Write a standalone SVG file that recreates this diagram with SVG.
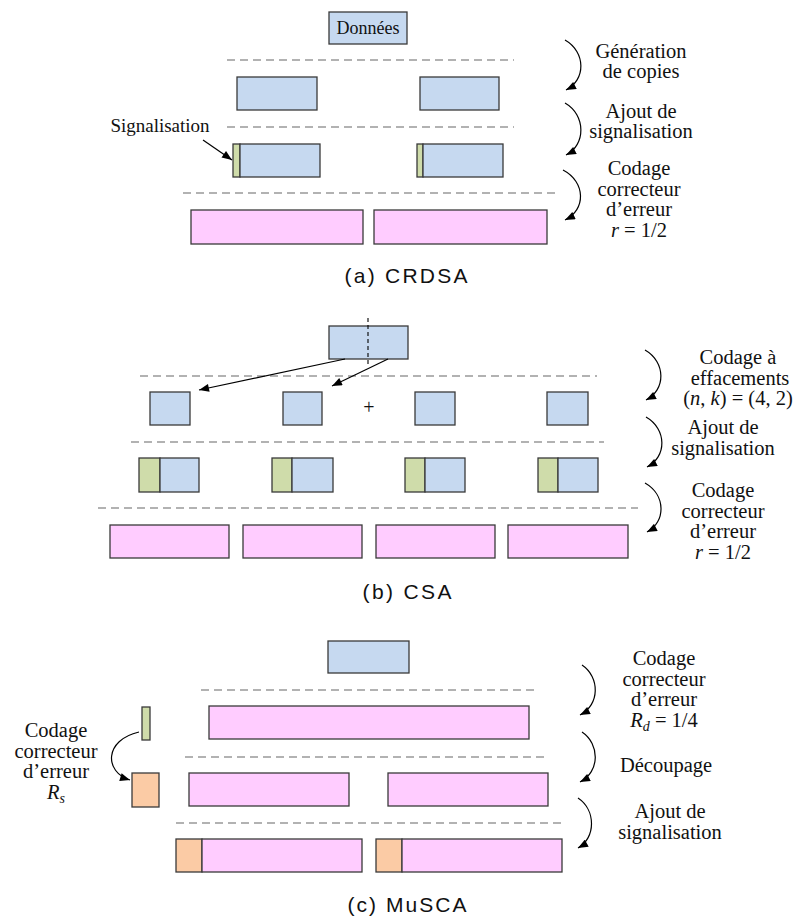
<svg xmlns="http://www.w3.org/2000/svg" width="795" height="918" viewBox="0 0 795 918">
  <style>
    .data { fill: #c6d9f0; stroke: #3a3a3a; stroke-width: 1.3; }
    .sig { fill: #cfdcaa; stroke: #3a3a3a; stroke-width: 1.3; }
    .fec { fill: #ffccff; stroke: #3a3a3a; stroke-width: 1.3; }
    .sfec { fill: #fbcba5; stroke: #3a3a3a; stroke-width: 1.3; }
    .sep { stroke: #999999; stroke-width: 1.4; stroke-dasharray: 8 5; fill: none; }
    .arc { stroke: #000000; stroke-width: 1.2; fill: none; marker-end: url(#tip); }
    .line { stroke: #000000; stroke-width: 1.2; fill: none; marker-end: url(#tip); }
    .serif { font-family: "Liberation Serif", Tinos, "Times New Roman", "Noto Serif", "DejaVu Serif", serif; fill: #111111; text-anchor: middle; }
    .lbl { font-size: 20.5px; }
    .cap { font-family: "Liberation Sans", Arimo, Arial, sans-serif; font-size: 21px; fill: #111111; text-anchor: middle; }
    .it { font-style: italic; }
  </style>
  <defs>
    <marker id="tip" viewBox="0 0 10 8" refX="10" refY="4" markerWidth="11" markerHeight="8" markerUnits="userSpaceOnUse" orient="auto">
      <path d="M0,0 L10,4 L0,8 z" fill="#000000"/>
    </marker>
  </defs>

  <rect width="795" height="918" fill="#ffffff"/>

  <!-- (a) CRDSA -->
  <g id="a-separators">
    <line class="sep" x1="227" y1="60" x2="514" y2="60"/>
    <line class="sep" x1="227" y1="127" x2="514" y2="127"/>
    <line class="sep" x1="183" y1="193" x2="557" y2="193"/>
  </g>
  <g id="a-data">
    <rect class="data" x="329" y="12" width="78" height="32"/>
    <text class="serif" x="368" y="34" font-size="18">Données</text>
  </g>
  <g id="a-copy1"><rect class="data" x="237" y="77" width="80" height="33"/></g>
  <g id="a-copy2"><rect class="data" x="420" y="77" width="79" height="33"/></g>
  <g id="a-sig1">
    <rect class="sig" x="233" y="144" width="7" height="33"/>
    <rect class="data" x="240" y="144" width="80" height="33"/>
  </g>
  <g id="a-sig2">
    <rect class="sig" x="417" y="144" width="6" height="33"/>
    <rect class="data" x="423" y="144" width="80" height="33"/>
  </g>
  <g id="a-coded1"><rect class="fec" x="191" y="210" width="172" height="34"/></g>
  <g id="a-coded2"><rect class="fec" x="374" y="210" width="173" height="34"/></g>
  <g id="a-sig-label">
    <text class="serif" x="160" y="132" font-size="19">Signalisation</text>
  </g>
  <g id="a-steps" class="serif lbl">
    <text x="641" y="58">Génération</text>
    <text x="641" y="78">de copies</text>
    <text x="641" y="118">Ajout de</text>
    <text x="641" y="138">signalisation</text>
    <text x="639" y="175">Codage</text>
    <text x="639" y="195.5">correcteur</text>
    <text x="639" y="216">d’erreur</text>
    <text x="639" y="236.5"><tspan class="it">r</tspan> = 1/2</text>
  </g>
  <text class="cap" x="406" y="283" textLength="123" lengthAdjust="spacing">(a)  CRDSA</text>

  <!-- (b) CSA -->
  <g id="b-separators">
    <line class="sep" x1="140" y1="376" x2="597" y2="376"/>
    <line class="sep" x1="131" y1="442" x2="604" y2="442"/>
    <line class="sep" x1="98" y1="508" x2="638" y2="508"/>
  </g>
  <g id="b-data">
    <rect class="data" x="329" y="326" width="79" height="33"/>
    <line x1="368" y1="318" x2="368" y2="365" stroke="#000" stroke-width="1.1" stroke-dasharray="4 3"/>
  </g>
  <g id="b-part1"><rect class="data" x="150" y="392" width="40" height="33"/></g>
  <g id="b-part2"><rect class="data" x="283" y="392" width="39" height="33"/></g>
  <g id="b-plus"><text class="serif" x="369" y="414" font-size="20">+</text></g>
  <g id="b-part3"><rect class="data" x="415" y="392" width="40" height="33"/></g>
  <g id="b-part4"><rect class="data" x="547" y="392" width="41" height="33"/></g>
  <g id="b-sig1"><rect class="sig" x="139" y="458" width="21" height="34"/><rect class="data" x="160" y="458" width="39" height="34"/></g>
  <g id="b-sig2"><rect class="sig" x="272" y="458" width="20" height="34"/><rect class="data" x="292" y="458" width="41" height="34"/></g>
  <g id="b-sig3"><rect class="sig" x="405" y="458" width="20" height="34"/><rect class="data" x="425" y="458" width="40" height="34"/></g>
  <g id="b-sig4"><rect class="sig" x="538" y="458" width="20" height="34"/><rect class="data" x="558" y="458" width="40" height="34"/></g>
  <g id="b-coded1"><rect class="fec" x="110" y="525" width="119" height="33"/></g>
  <g id="b-coded2"><rect class="fec" x="243" y="525" width="119" height="33"/></g>
  <g id="b-coded3"><rect class="fec" x="376" y="525" width="119" height="33"/></g>
  <g id="b-coded4"><rect class="fec" x="508" y="525" width="120" height="33"/></g>
  <g id="b-steps" class="serif lbl">
    <text x="738" y="364">Codage à</text>
    <text x="740" y="384.5">effacements</text>
    <text x="738" y="405">(<tspan class="it">n</tspan>, <tspan class="it">k</tspan>) = (4, 2)</text>
    <text x="723" y="434">Ajout de</text>
    <text x="723" y="454.5">signalisation</text>
    <text x="723" y="497">Codage</text>
    <text x="723" y="517.5">correcteur</text>
    <text x="723" y="538">d’erreur</text>
    <text x="723" y="558.5"><tspan class="it">r</tspan> = 1/2</text>
  </g>
  <text class="cap" x="407" y="599" textLength="89" lengthAdjust="spacing">(b)  CSA</text>

  <!-- (c) MuSCA -->
  <g id="c-separators">
    <line class="sep" x1="201" y1="690" x2="535" y2="690"/>
    <line class="sep" x1="185" y1="757" x2="547" y2="757"/>
    <line class="sep" x1="176" y1="823" x2="566" y2="823"/>
  </g>
  <g id="c-data"><rect class="data" x="328" y="641" width="81" height="32"/></g>
  <g id="c-sig"><rect class="sig" x="142" y="707" width="8" height="33"/></g>
  <g id="c-coded"><rect class="fec" x="209" y="706" width="320" height="33"/></g>
  <g id="c-sig-coded"><rect class="sfec" x="132" y="773" width="27" height="34"/></g>
  <g id="c-piece1"><rect class="fec" x="189" y="773" width="160" height="33"/></g>
  <g id="c-piece2"><rect class="fec" x="388" y="773" width="160" height="33"/></g>
  <g id="c-burst1"><rect class="sfec" x="176" y="839" width="26" height="33"/><rect class="fec" x="202" y="839" width="160" height="33"/></g>
  <g id="c-burst2"><rect class="sfec" x="376" y="839" width="26" height="33"/><rect class="fec" x="402" y="839" width="160" height="33"/></g>
  <g id="c-left-step" class="serif lbl">
    <text x="56" y="737">Codage</text>
    <text x="56" y="757.5">correcteur</text>
    <text x="56" y="778">d’erreur</text>
    <text x="56" y="798.5"><tspan class="it">R</tspan><tspan class="it" font-size="14" dy="4">s</tspan></text>
  </g>
  <g id="c-steps" class="serif lbl">
    <text x="664" y="665">Codage</text>
    <text x="664" y="685.5">correcteur</text>
    <text x="664" y="706">d’erreur</text>
    <text x="664" y="726.5"><tspan class="it">R</tspan><tspan class="it" font-size="14" dy="4">d</tspan><tspan dy="-4"> = 1/4</tspan></text>
    <text x="666" y="772">Découpage</text>
    <text x="670" y="818">Ajout de</text>
    <text x="670" y="838.5">signalisation</text>
  </g>
  <text class="cap" x="407" y="912" textLength="119" lengthAdjust="spacing">(c)  MuSCA</text>

  <!-- connectors -->
  <g id="connectors">
    <line class="line" x1="203" y1="140" x2="232" y2="160"/>
    <path class="arc" d="M565,40 C586,52 586,80 566,90"/>
    <path class="arc" d="M565,103 C586,115 586,145 566,155"/>
    <path class="arc" d="M563,170 C586,182 586,210 565,220"/>

    <line class="line" x1="345" y1="359" x2="199" y2="390"/>
    <line class="line" x1="388" y1="359" x2="332" y2="386"/>
    <path class="arc" d="M645,350 C666,362 666,390 646,400"/>
    <path class="arc" d="M646,417 C667,429 667,457 647,467"/>
    <path class="arc" d="M645,483 C666,495 666,522 647,532"/>

    <path class="arc" d="M582,665 C600,677 600,705 580,715"/>
    <path class="arc" d="M582,732 C600,744 600,772 580,782"/>
    <path class="arc" d="M578,798 C596,810 596,838 578,848"/>
    <path class="arc" d="M139,732 C104,740 104,772 130,780"/>
  </g>
</svg>
